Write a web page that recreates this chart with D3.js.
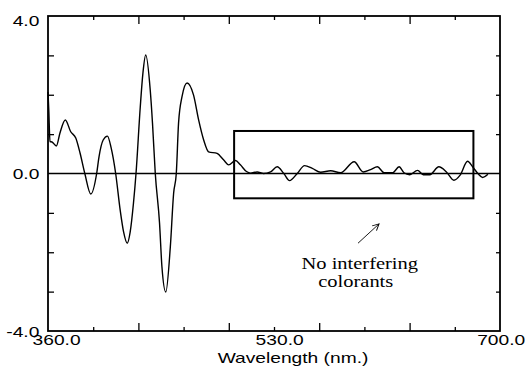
<!DOCTYPE html>
<html>
<head>
<meta charset="utf-8">
<script src="https://cdn.jsdelivr.net/npm/d3@7"></script>
<style>
  html, body { margin: 0; padding: 0; background: #fff; }
  svg { display: block; }
</style>
</head>
<body>
<div id="myPlot" style="width:525px;height:373px"></div>
<script>
// Derivative spectrum
const wavelength = [360.0, 360.6, 361.5, 363.0, 366.3, 369.0, 373.0, 377.1, 380.9, 384.1,
  387.7, 392.2, 396.6, 398.4, 401.5, 404.7, 407.5, 410.9, 414.3, 416.9,
  419.6, 421.8, 424.3, 426.2, 429.4, 431.4, 433.5, 436.9, 438.6, 440.7,
  443.9, 445.7, 448.6, 452.0, 454.5, 456.5, 458.2, 460.8, 464.6, 469.5,
  473.3, 477.1, 480.8, 487.2, 492.2, 495.9, 501.0, 504.7, 509.3, 512.3,
  517.3, 522.1, 527.4, 532.4, 537.4, 541.7, 547.5, 553.0, 558.8, 565.1,
  572.6, 580.1, 590.3, 597.1, 602.7, 607.8, 612.8, 619.3, 624.1, 627.8,
  632.1, 638.0, 642.3, 647.2, 654.0, 659.7, 665.3, 670.0, 675.6, 679.4,
  683.4, 686.9, 690.9];
const derivValue = [2.07, 1.60, 0.81, 0.80, 0.70, 1.03, 1.36, 1.06, 0.90, 0.52,
  0.0, -0.52, 0.0, 0.43, 0.85, 0.95, 0.65, 0.0, -0.93, -1.49,
  -1.77, -1.49, -0.75, 0.0, 1.69, 2.55, 3.01, 2.12, 1.28, 0.0,
  -1.26, -2.37, -3.01, -1.87, -0.50, 0.0, 1.28, 1.95, 2.30, 1.99,
  1.36, 0.85, 0.55, 0.51, 0.34, 0.22, 0.33, 0.22, 0.05, 0.01,
  0.04, 0.0, 0.04, 0.17, 0.0, -0.18, 0.0, 0.20, 0.13, 0.03,
  0.07, 0.02, 0.30, 0.04, 0.10, 0.17, 0.02, 0.02, 0.17, 0.02,
  -0.03, 0.08, -0.03, -0.03, 0.17, 0.04, -0.17, -0.04, 0.31, 0.17,
  0.0, -0.10, -0.02];

// Axis settings
const xDomain = [360, 700];
const yDomain = [-4, 4];
const xLabelTicks = [360, 530, 700];
const yLabelTicks = [-4, 0, 4];
const xMajorTicks = [428, 496, 564, 632];
const xMinorTicks = [394, 462, 530, 598, 666];
const yTicks = [-3, -2, -1, 1, 2, 3];

// Annotation box and note
const boxX = [500, 680];
const boxY = [-0.63, 1.08];
const arrowFrom = [593.2, -1.77];
const arrowTo = [609.0, -1.28];
const noteLines = ["No interfering", "colorants"];
const noteX = [594.5, 591.5];
const noteY = [-2.43, -2.89];

const width = 525, height = 373;
const margin = {top: 16, right: 25, bottom: 42, left: 48};
const stretch = 1.28; // text in the picture is wider than normal

const svg = d3.select("#myPlot")
  .append("svg")
  .attr("width", width)
  .attr("height", height);

const x = d3.scaleLinear()
  .domain(xDomain)
  .range([margin.left, width - margin.right]);

const y = d3.scaleLinear()
  .domain(yDomain)
  .range([height - margin.bottom, margin.top]);

// Tick marks, all pointing inward
function tickMarks(axis, transform) {
  const g = svg.append("g")
    .attr("transform", transform)
    .call(axis);
  g.select(".domain").remove();
  g.selectAll("line").attr("stroke", "#000").attr("stroke-width", 1.3);
  return g;
}
tickMarks(d3.axisBottom(x).tickValues(xMajorTicks).tickSize(-8).tickFormat(""),
  "translate(0," + y(-4) + ")");
tickMarks(d3.axisBottom(x).tickValues(xMinorTicks).tickSize(-4).tickFormat(""),
  "translate(0," + y(-4) + ")");
tickMarks(d3.axisTop(x).tickValues(xMajorTicks).tickSize(-8).tickFormat(""),
  "translate(0," + y(4) + ")");
tickMarks(d3.axisTop(x).tickValues(xMinorTicks).tickSize(-4).tickFormat(""),
  "translate(0," + y(4) + ")");
tickMarks(d3.axisLeft(y).tickValues(yTicks).tickSize(-6).tickFormat(""),
  "translate(" + x(360) + ",0)");
tickMarks(d3.axisRight(y).tickValues(yTicks).tickSize(-4).tickFormat(""),
  "translate(" + x(700) + ",0)");

// Tick labels
const fmt = function (d) { return d.toFixed(1); };

const xLab = svg.append("g")
  .attr("transform", "translate(0," + y(-4) + ")")
  .call(d3.axisBottom(x).tickValues(xLabelTicks).tickSize(0).tickFormat(fmt));
xLab.select(".domain").remove();
xLab.selectAll("text")
  .attr("y", 14)
  .attr("dy", 0)
  .attr("x", function (d) { return d == 360 ? 6.3 : (d == 530 ? 4 : 0.5); })
  .attr("transform", "scale(" + stretch + ",1)")
  .style("font-family", "'Liberation Sans', Arial, sans-serif")
  .style("font-size", "15px")
  .attr("fill", "#000");

const yLab = svg.append("g")
  .attr("transform", "translate(" + x(360) + ",0)")
  .call(d3.axisLeft(y).tickValues(yLabelTicks).tickSize(0).tickFormat(fmt));
yLab.select(".domain").remove();
yLab.selectAll("text")
  .attr("x", -6.8)
  .attr("dy", 0)
  .attr("y", function (d) { return d == 4 ? 9 : 5; })
  .attr("transform", "scale(" + stretch + ",1)")
  .style("font-family", "'Liberation Sans', Arial, sans-serif")
  .style("font-size", "15px")
  .attr("fill", "#000");

// Axis title
svg.append("text")
  .attr("transform", "translate(293,363) scale(" + stretch + ",1)")
  .attr("text-anchor", "middle")
  .style("font-family", "'Liberation Sans', Arial, sans-serif")
  .style("font-size", "15px")
  .text("Wavelength (nm.)");

// Frame
svg.append("rect")
  .attr("x", x(360))
  .attr("y", y(4))
  .attr("width", x(700) - x(360))
  .attr("height", y(-4) - y(4))
  .attr("fill", "none")
  .attr("stroke", "#000")
  .attr("stroke-width", 1.8);

// Zero line
svg.append("line")
  .attr("x1", x(360)).attr("x2", x(700))
  .attr("y1", y(0)).attr("y2", y(0))
  .attr("stroke", "#000")
  .attr("stroke-width", 1.6);

// Spectrum
const points = wavelength.map(function (w, i) { return {x: w, y: derivValue[i]}; });
const line = d3.line()
  .x(function (d) { return x(d.x); })
  .y(function (d) { return y(d.y); })
  .curve(d3.curveMonotoneX);

svg.append("path")
  .datum(points)
  .attr("d", line)
  .attr("fill", "none")
  .attr("stroke", "#000")
  .attr("stroke-width", 1.4);

// Box around the flat region
svg.append("rect")
  .attr("x", x(boxX[0]))
  .attr("y", y(boxY[1]))
  .attr("width", x(boxX[1]) - x(boxX[0]))
  .attr("height", y(boxY[0]) - y(boxY[1]))
  .attr("fill", "none")
  .attr("stroke", "#000")
  .attr("stroke-width", 2);

// Arrow
svg.append("defs").append("marker")
  .attr("id", "head")
  .attr("viewBox", "0 0 10 10")
  .attr("refX", 9).attr("refY", 5)
  .attr("markerWidth", 8).attr("markerHeight", 8)
  .attr("markerUnits", "userSpaceOnUse")
  .attr("orient", "auto")
  .append("path")
  .attr("d", "M1,1 L9,5 L1,9")
  .attr("fill", "none")
  .attr("stroke", "#000")
  .attr("stroke-width", 1.2);

svg.append("line")
  .attr("x1", x(arrowFrom[0])).attr("y1", y(arrowFrom[1]))
  .attr("x2", x(arrowTo[0])).attr("y2", y(arrowTo[1]))
  .attr("stroke", "#000")
  .attr("stroke-width", 0.9)
  .attr("marker-end", "url(#head)");

// Note
svg.selectAll(".note")
  .data(noteLines).enter()
  .append("text")
  .attr("class", "note")
  .attr("transform", function (d, i) {
    return "translate(" + x(noteX[i]) + "," + y(noteY[i]) + ") scale(" + stretch + ",1)";
  })
  .attr("text-anchor", "middle")
  .style("font-family", "'Liberation Serif', 'Times New Roman', serif")
  .style("font-size", "16px")
  .text(function (d) { return d; });
</script>
</body>
</html>
